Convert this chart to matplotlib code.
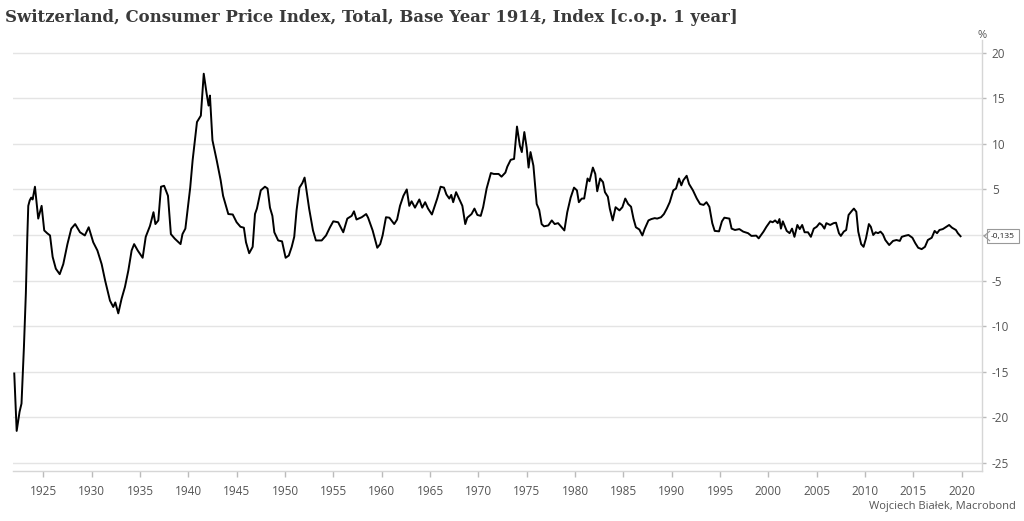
import matplotlib.pyplot as plt
from matplotlib.lines import Line2D

# year-over-year change of Swiss CPI
years = [
    1922.0, 1922.25, 1922.55, 1922.75, 1923.0, 1923.2, 1923.35, 1923.45, 1923.6, 1923.75,
    1923.9, 1924.14, 1924.48, 1924.83, 1925.1, 1925.4, 1925.7, 1925.97, 1926.3, 1926.7,
    1927.07, 1927.5, 1927.9, 1928.3, 1928.8, 1929.3, 1929.7, 1930.17, 1930.6, 1931.04,
    1931.4, 1931.9, 1932.24, 1932.45, 1932.76, 1933.1, 1933.45, 1933.8, 1934.14, 1934.4,
    1934.77, 1935.28, 1935.6, 1936.04, 1936.4, 1936.6, 1936.9, 1937.18, 1937.5, 1937.9,
    1938.2, 1938.6, 1939.2, 1939.4, 1939.7, 1940.2, 1940.45, 1940.9, 1941.3, 1941.6,
    1941.9, 1942.1, 1942.24, 1942.5, 1942.94, 1943.35, 1943.6, 1944.14, 1944.6, 1945.0,
    1945.4, 1945.75, 1945.97, 1946.3, 1946.66, 1946.9, 1947.1, 1947.5, 1947.93, 1948.2,
    1948.45, 1948.7, 1948.9, 1949.3, 1949.7, 1950.07, 1950.4, 1950.7, 1950.96, 1951.2,
    1951.5, 1951.8, 1952.03, 1952.2, 1952.5, 1952.9, 1953.2, 1953.8, 1954.25, 1954.66,
    1955.0, 1955.5, 1956.03, 1956.45, 1956.9, 1957.14, 1957.4, 1957.94, 1958.4, 1958.6,
    1959.07, 1959.3, 1959.55, 1959.85, 1960.1, 1960.45, 1960.8, 1961.3, 1961.6, 1961.9,
    1962.25, 1962.6, 1962.86, 1963.1, 1963.45, 1963.9, 1964.2, 1964.5, 1964.8, 1965.2,
    1965.5, 1965.75, 1966.1, 1966.45, 1966.7, 1967.0, 1967.2, 1967.4, 1967.7, 1968.0,
    1968.35, 1968.65, 1968.86, 1969.3, 1969.6, 1969.9, 1970.25, 1970.5, 1970.86, 1971.3,
    1971.6, 1972.1, 1972.4, 1972.8, 1973.0, 1973.35, 1973.7, 1974.0, 1974.3, 1974.5,
    1974.76, 1975.0, 1975.2, 1975.4, 1975.7, 1976.04, 1976.3, 1976.55, 1976.8, 1977.24,
    1977.6, 1977.9, 1978.25, 1978.5, 1978.9, 1979.2, 1979.55, 1979.9, 1980.2, 1980.4,
    1980.7, 1980.95, 1981.3, 1981.5, 1981.85, 1982.1, 1982.3, 1982.6, 1982.9, 1983.1,
    1983.4, 1983.6, 1983.9, 1984.2, 1984.6, 1984.9, 1985.2, 1985.5, 1985.8, 1986.05,
    1986.3, 1986.66, 1986.97, 1987.2, 1987.6, 1987.9, 1988.25, 1988.5, 1988.9, 1989.2,
    1989.5, 1989.8, 1990.17, 1990.45, 1990.76, 1991.0, 1991.2, 1991.55, 1991.8, 1992.2,
    1992.6, 1992.94, 1993.3, 1993.6, 1993.9, 1994.2, 1994.45, 1994.9, 1995.2, 1995.45,
    1995.97, 1996.2, 1996.55, 1997.0, 1997.4, 1997.9, 1998.25, 1998.75, 1999.0, 1999.5,
    1999.8, 2000.2, 2000.45, 2000.7, 2000.97, 2001.15, 2001.3, 2001.5, 2001.9, 2002.2,
    2002.45, 2002.7, 2003.0, 2003.25, 2003.5, 2003.75, 2004.1, 2004.4, 2004.7, 2005.0,
    2005.3, 2005.55, 2005.8, 2006.0, 2006.4, 2006.75, 2007.0, 2007.3, 2007.5, 2007.8,
    2008.05, 2008.3, 2008.6, 2008.85, 2009.1, 2009.3, 2009.6, 2009.85, 2010.1, 2010.4,
    2010.6, 2010.85, 2011.1, 2011.35, 2011.6, 2011.85, 2012.1, 2012.5, 2012.9, 2013.25,
    2013.6, 2013.8, 2014.2, 2014.5, 2014.9, 2015.2, 2015.5, 2015.86, 2016.2, 2016.5,
    2016.9, 2017.2, 2017.45, 2017.7, 2018.05, 2018.4, 2018.7, 2019.0, 2019.4, 2019.6,
    2019.88,
]
values = [
    -15.2, -21.5, -19.4, -18.5, -12.3, -6.4, -0.2, 3.2, 3.8, 4.1,
    3.9, 5.3, 1.8, 3.2, 0.5, 0.2, -0.05, -2.4, -3.7, -4.3,
    -3.2, -1.0, 0.7, 1.2, 0.3, -0.05, 0.85, -0.8, -1.7, -3.2,
    -5.0, -7.2, -7.9, -7.4, -8.6, -7.0, -5.7, -3.9, -1.7, -1.0,
    -1.7, -2.5, -0.2, 1.0, 2.5, 1.2, 1.6, 5.3, 5.4, 4.3,
    0.1, -0.4, -1.0, 0.1, 0.7, 5.2, 8.2, 12.4, 13.1, 17.7,
    15.5, 14.2, 15.3, 10.4, 8.2, 6.0, 4.3, 2.3, 2.25, 1.4,
    0.9, 0.8, -0.8, -2.0, -1.3, 2.3, 2.9, 4.9, 5.3, 5.1,
    3.0, 2.1, 0.3, -0.6, -0.7, -2.5, -2.25, -1.3, -0.2, 2.7,
    5.2, 5.7, 6.3, 5.1, 2.9, 0.5, -0.6, -0.6, -0.05, 0.85,
    1.5, 1.4, 0.3, 1.8, 2.1, 2.6, 1.7, 1.95, 2.3, 1.9,
    0.5, -0.4, -1.4, -1.0, -0.05, 1.95, 1.9, 1.2, 1.7, 3.2,
    4.3, 5.0, 3.2, 3.7, 3.0, 3.9, 3.0, 3.6, 2.9, 2.25,
    3.2, 4.0, 5.3, 5.2, 4.45, 4.0, 4.4, 3.6, 4.7, 4.0,
    3.2, 1.2, 1.9, 2.3, 2.9, 2.2, 2.1, 3.05, 5.1, 6.8,
    6.7, 6.7, 6.4, 6.85, 7.5, 8.25, 8.35, 11.9, 9.8, 9.1,
    11.3, 9.6, 7.4, 9.1, 7.6, 3.4, 2.75, 1.2, 0.95, 1.05,
    1.6, 1.2, 1.3, 1.0, 0.5, 2.5, 4.1, 5.2, 4.9, 3.6,
    4.0, 4.0, 6.2, 5.9, 7.4, 6.7, 4.8, 6.2, 5.8, 4.7,
    4.2, 2.9, 1.6, 3.05, 2.7, 3.05, 4.0, 3.4, 3.1, 1.8,
    0.85, 0.6, -0.05, 0.65, 1.6, 1.75, 1.85, 1.8, 1.95, 2.3,
    2.9, 3.6, 4.9, 5.1, 6.2, 5.45, 6.0, 6.5, 5.6, 4.9,
    4.0, 3.4, 3.3, 3.6, 3.1, 1.3, 0.45, 0.4, 1.5, 1.9,
    1.8, 0.7, 0.55, 0.65, 0.37, 0.2, -0.1, -0.07, -0.37, 0.37,
    0.9, 1.5, 1.4, 1.6, 1.3, 1.75, 0.7, 1.5, 0.45, 0.2,
    0.7, -0.2, 1.1, 0.65, 1.1, 0.3, 0.3, -0.2, 0.7, 0.9,
    1.3, 1.1, 0.7, 1.3, 1.1, 1.3, 1.35, 0.2, -0.1, 0.37,
    0.55, 2.2, 2.6, 2.9, 2.55, 0.37, -1.0, -1.3, -0.37, 1.2,
    0.9, 0.0, 0.3, 0.2, 0.37, 0.07, -0.55, -1.1, -0.65, -0.55,
    -0.65, -0.2, -0.07, 0.0, -0.3, -0.9, -1.4, -1.55, -1.3, -0.55,
    -0.3, 0.45, 0.2, 0.55, 0.65, 0.9, 1.1, 0.8, 0.55, 0.2,
    -0.135,
]
last_label = '-0,135'

x_ticks = list(range(1925, 2021, 5))
y_ticks = list(range(-25, 21, 5))
# the 0 label is covered by the last-value tag in the original
y_labels = ['' if v == 0 else str(v) for v in y_ticks]

grey = '#555555'
grid_grey = '#e4e4e4'

fig = plt.figure(figsize=(10.24, 5.21), dpi=100)
ax = fig.add_axes([13 / 1024, 1 - 471 / 521, (982 - 13) / 1024, (471 - 40) / 521])

ax.plot(years, values, color='black', linewidth=1.4, solid_joinstyle='round')

ax.set_xlim(1921.87, 2022.1)
ax.set_ylim(-25.9, 21.4)
ax.set_xticks(x_ticks)
ax.set_yticks(y_ticks)
ax.set_yticklabels(y_labels)
ax.yaxis.tick_right()
ax.grid(True, axis='y', color=grid_grey, linewidth=1)
ax.set_axisbelow(True)

for side in ['top', 'left']:
    ax.spines[side].set_visible(False)
for side in ['bottom', 'right']:
    ax.spines[side].set_color('#d6d6d6')
    ax.spines[side].set_linewidth(1)

ax.tick_params(axis='x', colors='#bbbbbb', labelcolor=grey, labelsize=8.5,
               length=4, width=1, pad=6)
ax.tick_params(axis='y', colors='#bbbbbb', labelcolor=grey, labelsize=8.5,
               length=3, width=1, pad=4)
for lbl in ax.get_xticklabels() + ax.get_yticklabels():
    lbl.set_family('Open Sans')

# last value tag
ax.annotate(last_label, xy=(1, values[-1]), xycoords=('axes fraction', 'data'),
            xytext=(6.5, 0), textcoords='offset points', ha='left', va='center',
            fontsize=6, color='#222222', family='Open Sans',
            bbox=dict(boxstyle='square,pad=0.45', fc='white', ec='#999999', lw=0.8),
            annotation_clip=False)
px, py = 984 / 1024, 1 - 236 / 521
fig.add_artist(Line2D([px + 0.0055, px, px + 0.0055], [py + 0.009, py, py - 0.009],
                      transform=fig.transFigure, color='#999999', lw=0.8))

fig.text(5 / 1024, 1 - 17 / 521, 'Switzerland, Consumer Price Index, Total, Base Year 1914, Index [c.o.p. 1 year]',
         family='DejaVu Serif', fontweight='bold', fontsize=11.9, color='#3a3a3a',
         ha='left', va='center')
fig.text(982 / 1024, 1 - 35 / 521, '%', family='Open Sans', fontsize=8, color=grey,
         ha='center', va='center')
fig.text(1016 / 1024, 1 - 506 / 521, 'Wojciech Białek, Macrobond', family='Open Sans',
         fontsize=8, color=grey, ha='right', va='center')

plt.savefig('out.png', dpi=100)
